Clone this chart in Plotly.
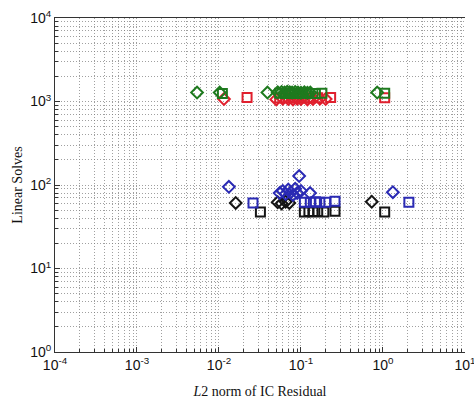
import plotly.graph_objects as go

# Upper group (~10^3 linear solves)
green_dia_x = [0.0054, 0.0102, 0.039, 0.052, 0.058, 0.063, 0.068, 0.073, 0.078, 0.085, 0.092, 0.10, 0.11, 0.12, 0.13, 0.85]
green_dia_y = [1280, 1280, 1280, 1290, 1300, 1280, 1310, 1290, 1280, 1300, 1280, 1270, 1290, 1270, 1280, 1280]
green_sq_x = [0.011, 0.055, 0.065, 0.075, 0.09, 0.105, 0.125, 0.15, 0.18, 1.05]
green_sq_y = [1250, 1260, 1250, 1260, 1250, 1260, 1250, 1250, 1260, 1260]
red_dia_x = [0.0115, 0.05, 0.06, 0.07, 0.08, 0.09, 0.10, 0.12, 0.14, 0.17, 0.2]
red_dia_y = [1070, 1060, 1080, 1070, 1060, 1080, 1070, 1060, 1070, 1080, 1070]
red_sq_x = [0.022, 0.055, 0.065, 0.08, 0.095, 0.11, 0.13, 0.16, 0.23, 1.05]
red_sq_y = [1120, 1100, 1110, 1100, 1110, 1100, 1100, 1110, 1120, 1110]

# Lower group (~10^2 linear solves)
blue_dia_x = [0.0132, 0.055, 0.06, 0.065, 0.07, 0.075, 0.08, 0.085, 0.09, 0.095, 0.1, 0.129, 1.32]
blue_dia_y = [95, 80, 85, 78, 88, 82, 76, 90, 80, 128, 85, 80, 82]
blue_sq_x = [0.026, 0.11, 0.13, 0.15, 0.17, 0.2, 0.26, 2.07]
blue_sq_y = [61, 62, 62, 63, 62, 62, 64, 62]
black_dia_x = [0.016, 0.052, 0.058, 0.065, 0.072, 0.73]
black_dia_y = [61, 62, 60, 63, 61, 63]
black_sq_x = [0.032, 0.11, 0.125, 0.14, 0.16, 0.19, 0.26, 1.05]
black_sq_y = [47.5, 47.5, 48, 47.5, 48, 47.5, 48.5, 47.5]

x_tickvals = [1e-4, 1e-3, 1e-2, 1e-1, 1e0, 1e1]
x_ticktext = ["10<sup>-4</sup>", "10<sup>-3</sup>", "10<sup>-2</sup>", "10<sup>-1</sup>", "10<sup>0</sup>", "10<sup>1</sup>"]
y_tickvals = [1e0, 1e1, 1e2, 1e3, 1e4]
y_ticktext = ["10<sup>0</sup>", "10<sup>1</sup>", "10<sup>2</sup>", "10<sup>3</sup>", "10<sup>4</sup>"]


def minor_vals(lo, hi):
    return [k * 10.0 ** d for d in range(lo, hi) for k in range(2, 10)]


series = [
    (black_sq_x, black_sq_y, "square-open", "#151515"),
    (black_dia_x, black_dia_y, "diamond-open", "#151515"),
    (blue_sq_x, blue_sq_y, "square-open", "#2a2ab4"),
    (blue_dia_x, blue_dia_y, "diamond-open", "#2a2ab4"),
    (red_sq_x, red_sq_y, "square-open", "#e0202e"),
    (red_dia_x, red_dia_y, "diamond-open", "#e0202e"),
    (green_sq_x, green_sq_y, "square-open", "#1e7a1e"),
    (green_dia_x, green_dia_y, "diamond-open", "#1e7a1e"),
]

fig = go.Figure()
for xs, ys, sym, col in series:
    fig.add_trace(go.Scatter(
        x=xs, y=ys, mode="markers",
        marker=dict(symbol=sym, size=9, color=col, line=dict(width=2, color=col)),
        showlegend=False, cliponaxis=False,
    ))

grid_col = "rgba(120,120,120,0.7)"


def axis_common(minvals, mirror):
    return dict(
        type="log", showline=True, linecolor="#333", linewidth=1, mirror=mirror,
        ticks="inside", ticklen=5, tickcolor="#333",
        showgrid=True, gridcolor=grid_col, griddash="1px,2px", gridwidth=1,
        minor=dict(tickmode="array", tickvals=minvals, ticks="inside", ticklen=3,
                   tickcolor="#333", showgrid=True,
                   gridcolor=grid_col, griddash="1px,2px", gridwidth=1),
        zeroline=False, ticklabeloverflow="allow",
        tickfont=dict(family="Liberation Sans, Arial", size=14, color="#111"),
    )


fig.update_xaxes(
    **axis_common(minor_vals(-4, 1), True), range=[-4, 1.0005], tickmode="array",
    tickvals=x_tickvals, ticktext=x_ticktext,
    title=dict(text="<i>L</i>2 norm of IC Residual",
               font=dict(family="Liberation Serif, Times New Roman", size=14, color="#111"),
               standoff=14),
)
fig.update_yaxes(
    **axis_common(minor_vals(0, 4), False), range=[-0.0005, 4.0005], tickmode="array",
    tickvals=y_tickvals, ticktext=y_ticktext,
    title=dict(text="Linear Solves",
               font=dict(family="Liberation Serif, Times New Roman", size=14, color="#111"),
               standoff=4),
)

fig.update_layout(
    width=474, height=400,
    margin=dict(l=55, r=9, t=18, b=48, autoexpand=False),
    paper_bgcolor="white", plot_bgcolor="white",
)

fig.write_html("out.html")
